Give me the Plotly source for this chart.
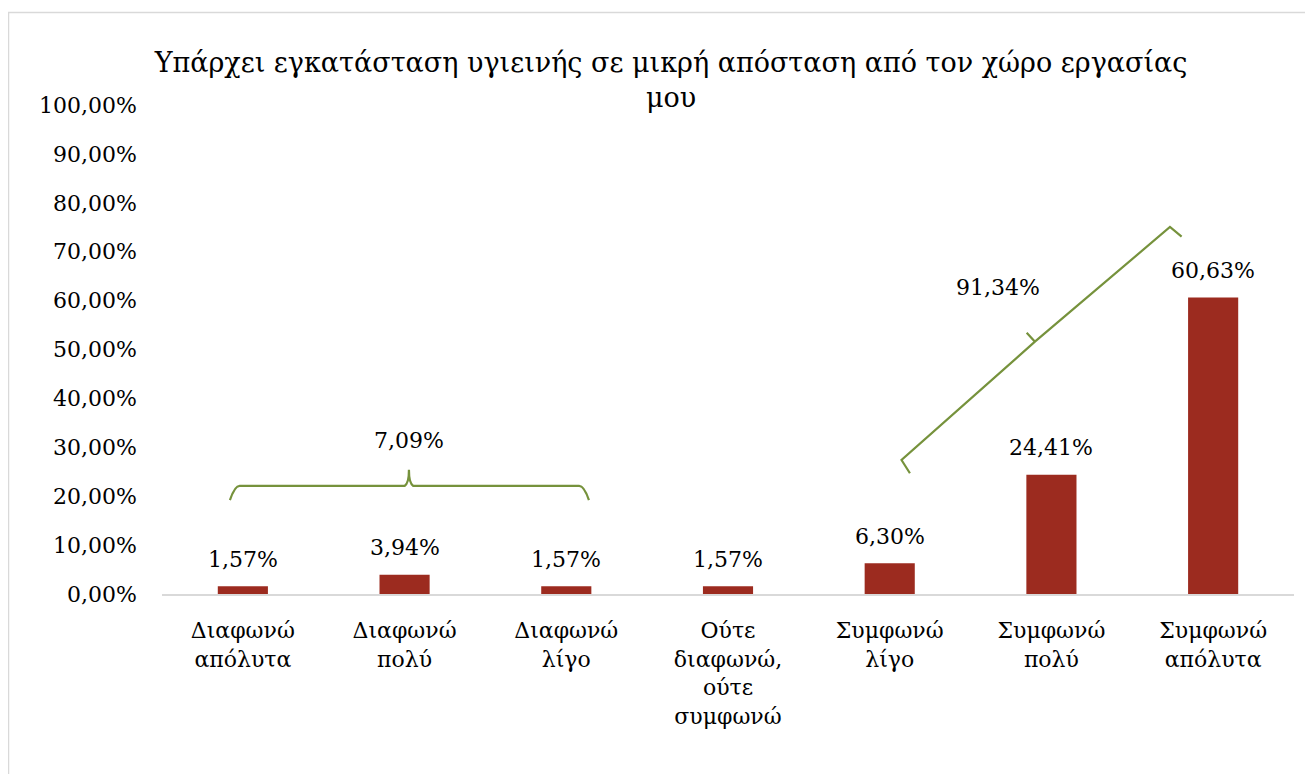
import plotly.graph_objects as go

title = "Υπάρχει εγκατάσταση υγιεινής σε μικρή απόσταση από τον χώρο εργασίας<br>μου"
categories = [
    "Διαφωνώ<br>απόλυτα",
    "Διαφωνώ<br>πολύ",
    "Διαφωνώ<br>λίγο",
    "Ούτε<br>διαφωνώ,<br>ούτε<br>συμφωνώ",
    "Συμφωνώ<br>λίγο",
    "Συμφωνώ<br>πολύ",
    "Συμφωνώ<br>απόλυτα",
]
values = [0.0157, 0.0394, 0.0157, 0.0157, 0.0630, 0.2441, 0.6063]
group_labels = ["7,09%", "91,34%"]

BAR = "#9C2B1F"
GREEN = "#76923C"
FONT = "DejaVu Serif"

# page body has an 8px margin, so the figure is 8px smaller than the window
W, H = 1305, 766
PL, PR, PT, PB = 154, 1286, 97, 586

x_pos = list(range(len(categories)))

fig = go.Figure()
fig.add_trace(go.Bar(
    x=x_pos,
    y=values,
    width=0.31,
    marker=dict(color=BAR, line=dict(width=0)),
    hoverinfo="skip",
))

value_notes = [
    dict(x=x, y=v, xref="x", yref="y", text=f"{v*100:.2f}%".replace(".", ","),
         showarrow=False, yanchor="middle", yshift=27,
         font=dict(family=FONT, size=22, color="#000000"))
    for x, v in zip(x_pos, values)
]

# brackets for the "disagree" group and the "agree" group (data coordinates)
brace_low = ("M -0.08,0.192 Q -0.05,0.221 -0.02,0.221 L 1.0,0.221 "
             "Q 1.027,0.226 1.027,0.254 Q 1.027,0.226 1.054,0.221 "
             "L 2.08,0.221 Q 2.11,0.221 2.14,0.192")
brace_high = ("M 4.125,0.247 L 4.073,0.274 L 4.898,0.516 L 4.847,0.534 "
              "M 4.898,0.516 L 5.733,0.7505 L 5.805,0.731")

fig.update_layout(
    width=W,
    height=H,
    separators=",.",
    paper_bgcolor="white",
    plot_bgcolor="white",
    font=dict(family=FONT, color="#000000", size=22),
    showlegend=False,
    margin=dict(l=PL, r=W - PR, t=PT, b=H - PB),
    title=dict(
        text=title,
        x=663 / W, xanchor="center", xref="container",
        y=1 - 64 / H, yanchor="middle", yref="container",
        font=dict(family=FONT, size=27, color="#000000"),
    ),
    xaxis=dict(
        range=[-0.5, 6.5],
        tickvals=x_pos,
        ticktext=categories,
        showgrid=False,
        zeroline=False,
        showline=True,
        linecolor="#D9D9D9",
        linewidth=1.5,
        ticks="",
        ticklabelstandoff=16,
        tickfont=dict(family=FONT, size=22),
        fixedrange=True,
    ),
    yaxis=dict(
        range=[0, 1.0],
        dtick=0.1,
        tickformat=".2%",
        showgrid=False,
        zeroline=False,
        showline=False,
        ticks="",
        ticklabelstandoff=24,
        tickfont=dict(family=FONT, size=22),
        fixedrange=True,
    ),
    shapes=[
        dict(type="rect", xref="paper", yref="paper",
             x0=(0.5 - PL) / (PR - PL), x1=1.2, y0=-0.5,
             y1=(PB - 4.5) / (PB - PT),
             line=dict(color="#D9D9D9", width=1.5), fillcolor="rgba(0,0,0,0)",
             layer="below"),
        dict(type="path", xref="x", yref="y", path=brace_low,
             line=dict(color=GREEN, width=2.2)),
        dict(type="path", xref="x", yref="y", path=brace_high,
             line=dict(color=GREEN, width=2.2)),
    ],
    annotations=value_notes + [
        dict(x=1.027, y=0.313, xref="x", yref="y", text=group_labels[0],
             showarrow=False, font=dict(family=FONT, size=22, color="#000000")),
        dict(x=4.669, y=0.626, xref="x", yref="y", text=group_labels[1],
             showarrow=False, font=dict(family=FONT, size=22, color="#000000")),
    ],
)

fig.write_html("out.html")
